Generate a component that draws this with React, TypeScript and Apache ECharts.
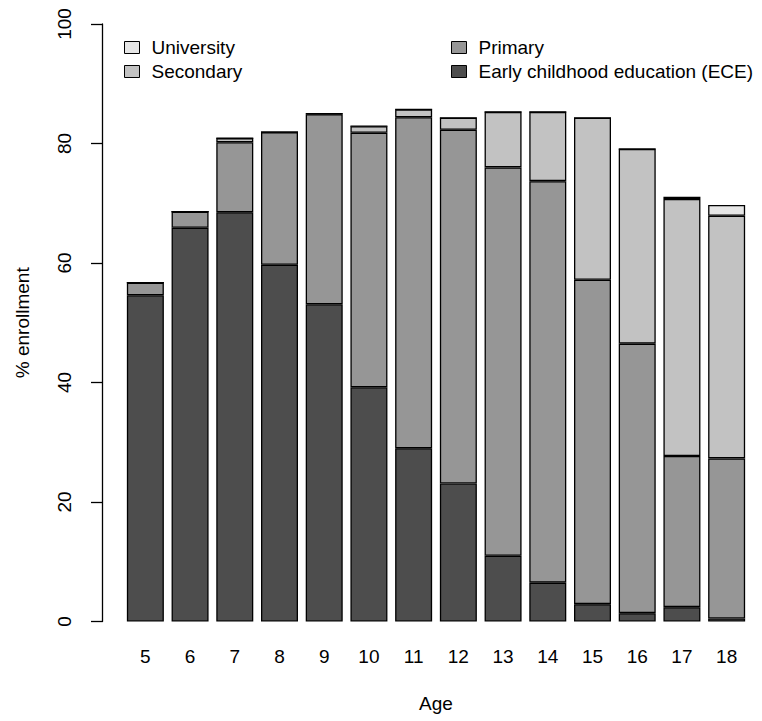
import React, { useEffect, useRef } from "react";
import * as echarts from "echarts";

const ages = ["5", "6", "7", "8", "9", "10", "11", "12", "13", "14", "15", "16", "17", "18"];
const ece = [54.6, 65.9, 68.5, 59.7, 53.1, 39.2, 29.0, 23.1, 11.0, 6.5, 2.9, 1.4, 2.4, 0.5];
const primary = [2.1, 2.7, 11.7, 22.2, 31.8, 42.6, 55.4, 59.2, 65.0, 67.2, 54.3, 45.1, 25.3, 26.8];
const secondary = [0, 0, 0.7, 0, 0.1, 1.1, 1.3, 2.0, 9.3, 11.6, 27.1, 32.6, 43.0, 40.6];
const university = [0, 0, 0, 0, 0, 0, 0, 0, 0, 0, 0, 0, 0.4, 1.8];
const yTicks = [0, 20, 40, 60, 80, 100];

const FONT = "Liberation Sans, Arial, Helvetica, sans-serif";

export default function App() {
  const ref = useRef<HTMLDivElement>(null);
  useEffect(() => {
    if (!ref.current) return;
    const chart = echarts.init(ref.current, undefined, { renderer: "svg" });
    const mkSeries = (name: string, data: number[], color: string) => ({
      name,
      type: "bar",
      stack: "total",
      data,
      barWidth: 37,
      itemStyle: { color, borderColor: "#000", borderWidth: 1.3 },
      emphasis: { disabled: true },
    });
    const legendText = {
      fontSize: 19,
      lineHeight: 19,
      color: "#000",
      fontFamily: FONT,
      padding: [0, 0, 0, 7],
    };
    chart.setOption({
      animation: false,
      backgroundColor: "#fff",
      textStyle: { fontFamily: FONT },
      grid: { left: 123, right: 13, top: 24, bottom: 99.5, containLabel: false },
      legend: [
        {
          data: ["University", "Secondary"],
          orient: "vertical",
          left: 119,
          top: 33,
          itemWidth: 15,
          itemHeight: 12,
          itemGap: 5,
          selectedMode: false,
          icon: "rect",
          itemStyle: { borderColor: "#000", borderWidth: 1 },
          textStyle: legendText,
        },
        {
          data: ["Primary", "Early childhood education (ECE)"],
          orient: "vertical",
          left: 446,
          top: 33,
          itemWidth: 15,
          itemHeight: 12,
          itemGap: 5,
          selectedMode: false,
          icon: "rect",
          itemStyle: { borderColor: "#000", borderWidth: 1 },
          textStyle: legendText,
        },
      ],
      xAxis: {
        type: "category",
        data: ages,
        name: "Age",
        nameLocation: "middle",
        nameGap: 72,
        nameTextStyle: { fontSize: 19, color: "#000", fontFamily: FONT },
        axisLine: { show: false },
        axisTick: { show: false },
        axisLabel: { fontSize: 19, color: "#000", margin: 25, fontFamily: FONT },
      },
      yAxis: {
        type: "value",
        min: yTicks[0],
        max: yTicks[yTicks.length - 1],
        interval: 20,
        offset: 21,
        name: "% enrollment",
        nameLocation: "middle",
        nameGap: 70,
        nameTextStyle: { fontSize: 19, color: "#000", fontFamily: FONT },
        splitLine: { show: false },
        axisLine: { show: true, lineStyle: { color: "#000", width: 1.3 } },
        axisTick: { show: true, length: 11, lineStyle: { color: "#000", width: 1.3 } },
        axisLabel: { fontSize: 19, color: "#000", rotate: 90, margin: 28, fontFamily: FONT },
      },
      series: [
        mkSeries("Early childhood education (ECE)", ece, "#4D4D4D"),
        mkSeries("Primary", primary, "#969696"),
        mkSeries("Secondary", secondary, "#C2C2C2"),
        mkSeries("University", university, "#E6E6E6"),
      ],
    });
    return () => chart.dispose();
  }, []);
  return (
    <div
      ref={ref}
      style={{ position: "fixed", left: 0, top: 0, width: 762, height: 721 }}
    />
  );
}
